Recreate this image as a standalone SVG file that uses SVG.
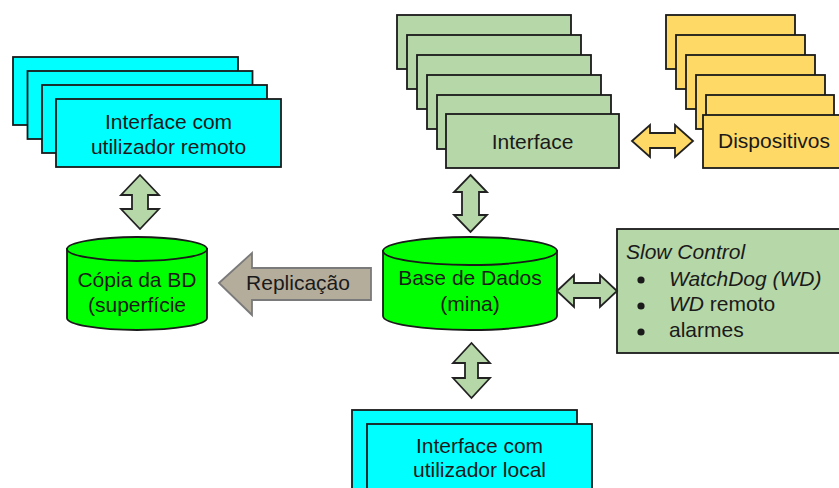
<svg xmlns="http://www.w3.org/2000/svg" width="839" height="488" viewBox="0 0 839 488">
  <style>
    text { font-family: "Liberation Sans", Arial, sans-serif; font-size: 21px; fill: #1a1a1a; }
    .c { text-anchor: middle; }
    .it { font-style: italic; }
    .box { stroke: #1a1a1a; stroke-width: 1.8; }
    .cyan { fill: #00ffff; }
    .sage { fill: #b6d7a8; }
    .gold { fill: #ffd966; }
    .db { fill: #00ff00; stroke: #1a1a1a; stroke-width: 1.8; }
    .arr { fill: #b6d7a8; stroke: #222; stroke-width: 1.8; stroke-linejoin: miter; }
    .arr-y { fill: #ffd966; stroke: #222; stroke-width: 1.8; }
    .arr-g { fill: #b5ad9c; stroke: #7a7a7a; stroke-width: 1.8; }
  </style>

  <rect width="839" height="488" fill="#ffffff"/>

  <!-- remote user interfaces (stacked) -->
  <g id="remote-ui">
    <rect class="box cyan" x="13" y="57" width="225" height="68"/>
    <rect class="box cyan" x="27.5" y="71" width="225" height="68"/>
    <rect class="box cyan" x="42" y="85" width="225" height="68"/>
    <rect class="box cyan" x="56" y="99" width="225" height="68"/>
    <text class="c" x="168.5" y="129">Interface com</text>
    <text class="c" x="168.5" y="154">utilizador remoto</text>
  </g>

  <!-- device interfaces (stacked) -->
  <g id="interface">
    <rect class="box sage" x="397" y="15" width="174" height="54"/>
    <rect class="box sage" x="407" y="35" width="174" height="54"/>
    <rect class="box sage" x="417" y="55" width="174" height="54"/>
    <rect class="box sage" x="427" y="75" width="174" height="54"/>
    <rect class="box sage" x="437" y="95" width="174" height="54"/>
    <rect class="box sage" x="446" y="114" width="173" height="54"/>
    <text class="c" x="532.5" y="149">Interface</text>
  </g>

  <!-- devices (stacked) -->
  <g id="devices">
    <rect class="box gold" x="666" y="15" width="129" height="54"/>
    <rect class="box gold" x="676" y="35" width="129" height="54"/>
    <rect class="box gold" x="686" y="55" width="129" height="54"/>
    <rect class="box gold" x="696" y="75" width="129" height="54"/>
    <rect class="box gold" x="706" y="95" width="128" height="54"/>
    <rect class="box gold" x="703" y="115" width="150" height="53"/>
    <text class="c" x="774" y="148">Dispositivos</text>
  </g>

  <!-- surface database copy -->
  <g id="db-copy">
    <path class="db" d="M67,249 L67,318 A70,12 0 0 0 207,318 L207,249 Z"/>
    <ellipse class="db" cx="137" cy="249" rx="70" ry="12"/>
    <text class="c" x="137" y="287">Cópia da BD</text>
    <text class="c" x="137" y="312">(superfície</text>
  </g>

  <!-- mine database -->
  <g id="db-main">
    <path class="db" d="M383,251 L383,316 A87,14 0 0 0 557,316 L557,251 Z"/>
    <ellipse class="db" cx="470" cy="251" rx="87" ry="14"/>
    <text class="c" x="470" y="285">Base de Dados</text>
    <text class="c" x="470" y="311">(mina)</text>
  </g>

  <!-- slow control -->
  <g id="slow-control">
    <rect class="box sage" x="617" y="229" width="240" height="124"/>
    <text class="it" x="626" y="259">Slow Control</text>
    <circle cx="641" cy="280" r="3.6" fill="#1a1a1a"/>
    <circle cx="641" cy="306" r="3.6" fill="#1a1a1a"/>
    <circle cx="641" cy="332" r="3.6" fill="#1a1a1a"/>
    <text class="it" x="669" y="286">WatchDog (WD)</text>
    <text x="669" y="311"><tspan class="it">WD</tspan> remoto</text>
    <text x="669" y="337">alarmes</text>
  </g>

  <!-- local user interfaces (stacked) -->
  <g id="local-ui">
    <rect class="box cyan" x="352" y="410" width="225" height="90"/>
    <rect class="box cyan" x="367" y="424" width="225" height="90"/>
    <text class="c" x="479.5" y="453">Interface com</text>
    <text class="c" x="479.5" y="477">utilizador local</text>
  </g>

  <!-- connectors -->
  <g id="connectors">
    <polygon class="arr" points="140,175 159,195 148,195 148,209 159,209 140,229 121,209 132,209 132,195 121,195"/>
    <polygon class="arr" points="470.5,175 487,192 479,192 479,215 487,215 470.5,232 454,215 462,215 462,192 454,192"/>
    <polygon class="arr" points="471.5,343 490,363 478,363 478,378 490,378 471.5,398 453,378 465,378 465,363 453,363"/>
    <polygon class="arr" points="557,291 574,275 574,283 600,283 600,275 617,291 600,307 600,298 574,298 574,307"/>
    <polygon class="arr-y" points="632,141 650,125 650,133 675,133 675,125 693,141 675,157 675,148 650,148 650,157"/>
    <g id="replication">
      <polygon class="arr-g" points="219,283 252,253 252,268 371,268 371,300 252,300 252,315"/>
      <text class="c" x="298" y="290">Replicação</text>
    </g>
  </g>
</svg>
